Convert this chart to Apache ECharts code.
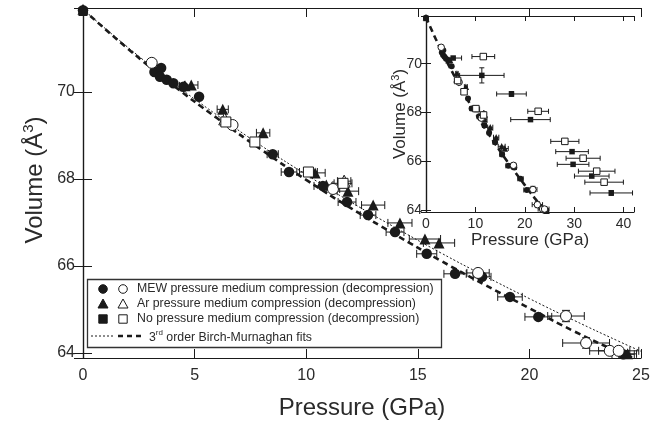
<!DOCTYPE html>
<html>
<head>
<meta charset="utf-8">
<script src="https://cdn.jsdelivr.net/npm/echarts@6/dist/echarts.min.js"></script>
<style>
  html, body { margin: 0; padding: 0; background: #fff; }
  #chart { width: 664px; height: 427px; }
</style>
</head>
<body>
<div id="chart"></div>
<script>
// each point: [pressure GPa, volume A^3, +/- pressure, +/- volume, bar width]
const mewComp = [
  [0, 71.88, 0, 0], [3.2, 70.46, 0, 0], [3.5, 70.55, 0, 0], [3.45, 70.35, 0, 0],
  [3.75, 70.28, 0, 0], [4.05, 70.2, 0, 0], [4.5, 70.12, 0, 0], [5.2, 69.89, 0, 0],
  [8.5, 68.57, 0.25, 0], [9.23, 68.16, 0.35, 0], [10.75, 67.84, 0.4, 0],
  [11.83, 67.47, 0.4, 0], [12.77, 67.17, 0.35, 0], [13.98, 66.78, 0.4, 0],
  [15.4, 66.28, 0.45, 0], [16.67, 65.82, 0.5, 0], [17.88, 65.75, 0.4, 0],
  [19.13, 65.29, 0.55, 0], [20.4, 64.83, 0.6, 0], [24.2, 63.97, 0.5, 0]
];
const mewDecomp = [
  [3.08, 70.67, 0, 0], [6.7, 69.24, 0, 0], [11.2, 67.77, 0.3, 0], [17.7, 65.84, 0.5, 0],
  [21.64, 64.85, 0.82, 0.13], [22.54, 64.23, 1.05, 0.12], [23.6, 64.05, 0.9, 0], [24.0, 64.05, 0.9, 0]
];
const arComp = [
  [0, 71.9, 0, 0], [4.57, 70.14, 0.25, 0], [4.85, 70.16, 0.3, 0], [6.26, 69.6, 0.25, 0],
  [8.07, 69.06, 0.3, 0], [10.4, 68.14, 0.45, 0], [10.9, 67.86, 0.3, 0], [11.87, 67.72, 0.48, 0],
  [13.0, 67.4, 0.52, 0], [14.2, 66.99, 0.54, 0], [15.32, 66.62, 0.7, 0], [15.95, 66.53, 0.7, 0],
  [24.4, 63.98, 0.4, 0]
];
const arDecomp = [
  [6.35, 69.38, 0, 0], [11.7, 67.95, 0.3, 0]
];
const noComp = [
  [0, 71.85, 0, 0]
];
const noDecomp = [
  [6.4, 69.31, 0.2, 0], [7.7, 68.85, 0.2, 0], [10.1, 68.16, 0.4, 0], [11.65, 67.9, 0.4, 0]
];
// points only shown in the inset
const noCompHigh = [
  [5.5, 70.23, 1.7, 0, 1], [11.3, 69.52, 4.5, 0.31, 1], [17.3, 68.76, 3.0, 0.1, 1],
  [21.15, 67.71, 4.0, 0, 2], [29.56, 66.4, 3.3, 0, 1], [29.77, 65.88, 3.2, 0, 1],
  [33.55, 65.4, 3.5, 0, 1], [37.5, 64.71, 4.3, 0.1, 2]
];
const noDecompHigh = [
  [11.6, 70.29, 2.3, 0, 1], [22.7, 68.05, 2.1, 0, 1], [28.1, 66.82, 2.85, 0, 1],
  [31.8, 66.13, 3.45, 0, 1], [34.55, 65.6, 3.7, 0.1, 1], [36.05, 65.15, 3.9, 0, 1]
];
// 3rd order Birch-Murnaghan fits
const fitHydro = [
  [0, 71.9], [2, 71.0], [4, 70.17], [6, 69.4], [8, 68.67], [10, 67.98], [12, 67.33],
  [14, 66.72], [16, 66.13], [18, 65.57], [20, 65.03], [22, 64.5], [24, 64.02], [24.6, 63.9]
];
const fitAll = [
  [0, 71.9], [2, 71.03], [4, 70.22], [6, 69.47], [8, 68.76], [10, 68.1], [12, 67.47],
  [14, 66.88], [16, 66.31], [18, 65.77], [20, 65.25], [22, 64.75], [24, 64.27], [25, 64.04]
];
const mainXTicks = [0, 5, 10, 15, 20, 25];
const insetXTicks = [0, 10, 20, 30, 40];
const yTicks = [64, 66, 68, 70];

const FONT = '"Liberation Sans", Arial, sans-serif';
const INK = '#1a1a1a';
const TXT = '#2a2a2a';

const chart = echarts.init(document.getElementById('chart'));

function errorBars(cap) {
  return function (params, api) {
    const x = api.value(0), y = api.value(1), dx = api.value(2), dy = api.value(3);
    const lw = api.value(4) || 1;
    const style = { stroke: INK, lineWidth: lw, fill: null };
    const kids = [];
    const seg = (x1, y1, x2, y2) => kids.push({ type: 'line', shape: { x1, y1, x2, y2 }, style });
    if (dx > 0) {
      const a = api.coord([x - dx, y]), b = api.coord([x + dx, y]);
      seg(a[0], a[1], b[0], b[1]);
      seg(a[0], a[1] - cap, a[0], a[1] + cap);
      seg(b[0], b[1] - cap, b[0], b[1] + cap);
    }
    if (dy > 0) {
      const a = api.coord([x, y - dy]), b = api.coord([x, y + dy]);
      seg(a[0], a[1], b[0], b[1]);
      seg(a[0] - cap, a[1], a[0] + cap, a[1]);
      seg(b[0] - cap, b[1], b[0] + cap, b[1]);
    }
    return { type: 'group', children: kids };
  };
}

const tickFmt = list => v => (list.some(t => Math.abs(t - v) < 1e-6) ? String(Math.round(v)) : '');

function xAxes(gridIndex, min, max, interval, ticks, fontSize, tickLen) {
  const base = {
    gridIndex, type: 'value', min, max, interval,
    axisLine: { lineStyle: { color: INK, width: 1.2 } },
    axisTick: { inside: true, length: tickLen, lineStyle: { color: INK, width: 1 } },
    splitLine: { show: false }
  };
  return [
    Object.assign({}, base, {
      position: 'bottom',
      axisLabel: { formatter: tickFmt(ticks), color: TXT, fontFamily: FONT, fontSize, margin: fontSize > 14 ? 10 : 5 }
    }),
    Object.assign({}, base, { position: 'top', axisLabel: { show: false } })
  ];
}

function yAxes(gridIndex, min, max, fontSize, tickLen) {
  const base = {
    gridIndex, type: 'value', min, max, splitNumber: 4,
    axisLine: { lineStyle: { color: INK, width: 1.2 } },
    axisTick: { inside: true, length: tickLen, lineStyle: { color: INK, width: 1 } },
    splitLine: { show: false }
  };
  return [
    Object.assign({}, base, {
      position: 'left',
      axisLabel: { formatter: tickFmt(yTicks), color: TXT, fontFamily: FONT, fontSize, margin: fontSize > 14 ? 8 : 4 }
    }),
    Object.assign({}, base, { position: 'right', axisLabel: { show: false } })
  ];
}

function scatter(name, data, xi, yi, symbol, size, open) {
  return {
    name, type: 'scatter', xAxisIndex: xi, yAxisIndex: yi, data,
    symbol, symbolSize: size, z: open ? 4 : 3,
    itemStyle: open
      ? { color: '#fff', borderColor: INK, borderWidth: 1, opacity: 1 }
      : { color: INK, borderWidth: 0, opacity: 1 },
    encode: { x: 0, y: 1 }
  };
}

function fitLine(data, xi, yi, dashed) {
  return {
    type: 'line', xAxisIndex: xi, yAxisIndex: yi, data, smooth: true, showSymbol: false,
    silent: true, z: 2,
    lineStyle: dashed
      ? { color: INK, width: 2.6, type: [6, 4] }
      : { color: INK, width: 1, type: [2, 2] }
  };
}

const mainErr = [].concat(mewComp, mewDecomp, arComp, arDecomp, noComp, noDecomp).filter(d => d[2] > 0 || d[3] > 0);
const insetErr = mainErr.concat(noCompHigh, noDecompHigh);

// legend symbols
const lx1 = 103, lx2 = 123, rows = [289, 304, 319];
const legendSyms = [];
function circ(cx, cy, filled) {
  return { type: 'circle', shape: { cx, cy, r: 4.3 }, style: { fill: filled ? INK : '#fff', stroke: INK, lineWidth: 1 }, z: 101 };
}
function tri(cx, cy, filled) {
  return { type: 'polygon', shape: { points: [[cx, cy - 5], [cx + 5, cy + 4], [cx - 5, cy + 4]] }, style: { fill: filled ? INK : '#fff', stroke: INK, lineWidth: 1 }, z: 101 };
}
function sq(cx, cy, filled) {
  return { type: 'rect', shape: { x: cx - 4.2, y: cy - 4.2, width: 8.4, height: 8.4 }, style: { fill: filled ? INK : '#fff', stroke: INK, lineWidth: 1 }, z: 101 };
}
legendSyms.push(circ(lx1, rows[0], true), circ(lx2, rows[0], false));
legendSyms.push(tri(lx1, rows[1], true), tri(lx2, rows[1], false));
legendSyms.push(sq(lx1, rows[2], true), sq(lx2, rows[2], false));

const legendTexts = [
  'MEW pressure medium compression (decompression)',
  'Ar pressure medium compression (decompression)',
  'No pressure medium compression (decompression)'
].map((t, i) => ({
  type: 'text', x: 137, y: rows[i], z: 101,
  style: { text: t, font: '12.3px ' + FONT, fill: TXT, textAlign: 'left', textVerticalAlign: 'middle' }
}));

const option = {
  animation: false,
  backgroundColor: '#fff',
  grid: [
    { left: 83, top: 8, width: 558, height: 350 },
    { left: 426, top: 16, width: 208, height: 196 }
  ],
  xAxis: [].concat(
    xAxes(0, 0, 25, 5, mainXTicks, 16, 9),
    xAxes(1, 0, 42.1, 10, insetXTicks, 14, 5)
  ),
  yAxis: [].concat(
    yAxes(0, 63.885, 71.93, 16, 9),
    yAxes(1, 63.93, 71.95, 14, 5)
  ),
  series: [
    fitLine(fitAll, 0, 0, false),
    fitLine(fitHydro, 0, 0, true),
    { type: 'custom', xAxisIndex: 0, yAxisIndex: 0, data: mainErr, renderItem: errorBars(4), z: 2, silent: true, encode: { x: 0, y: 1 } },
    scatter('mewComp', mewComp, 0, 0, 'circle', 10.5, false),
    scatter('arComp', arComp, 0, 0, 'triangle', 11, false),
    scatter('noComp', noComp, 0, 0, 'rect', 9, false),
    scatter('mewDecomp', mewDecomp, 0, 0, 'circle', 11, true),
    scatter('arDecomp', arDecomp, 0, 0, 'triangle', 12, true),
    scatter('noDecomp', noDecomp, 0, 0, 'rect', 10, true),

    fitLine(fitHydro, 2, 2, true),
    { type: 'custom', xAxisIndex: 2, yAxisIndex: 2, data: insetErr, renderItem: errorBars(2.5), z: 2, silent: true, encode: { x: 0, y: 1 } },
    scatter('mewComp', mewComp, 2, 2, 'circle', 6, false),
    scatter('arComp', arComp, 2, 2, 'triangle', 6.5, false),
    scatter('noComp', noComp.concat(noCompHigh), 2, 2, 'rect', 5.5, false),
    scatter('mewDecomp', mewDecomp, 2, 2, 'circle', 6.5, true),
    scatter('arDecomp', arDecomp, 2, 2, 'triangle', 7, true),
    scatter('noDecomp', noDecomp.concat(noDecompHigh), 2, 2, 'rect', 6.5, true)
  ],
  graphic: [
    { type: 'text', x: 362, y: 408, style: { text: 'Pressure (GPa)', font: '24px ' + FONT, fill: TXT, textAlign: 'center', textVerticalAlign: 'middle' } },
    {
      type: 'text', x: 33, y: 180, rotation: Math.PI / 2,
      style: {
        text: '{a|Volume (Å}{s|3}{a|)}', textAlign: 'center', textVerticalAlign: 'middle',
        rich: {
          a: { font: '24px ' + FONT, fill: TXT, verticalAlign: 'bottom', lineHeight: 28 },
          s: { font: '15px ' + FONT, fill: TXT, verticalAlign: 'bottom', padding: [0, 0, 11, 0], lineHeight: 28 }
        }
      }
    },
    { type: 'text', x: 530, y: 240, style: { text: 'Pressure (GPa)', font: '17px ' + FONT, fill: TXT, textAlign: 'center', textVerticalAlign: 'middle' } },
    {
      type: 'text', x: 399, y: 114, rotation: Math.PI / 2,
      style: {
        text: '{a|Volume (Å}{s|3}{a|)}', textAlign: 'center', textVerticalAlign: 'middle',
        rich: {
          a: { font: '17px ' + FONT, fill: TXT, verticalAlign: 'bottom', lineHeight: 20 },
          s: { font: '11px ' + FONT, fill: TXT, verticalAlign: 'bottom', padding: [0, 0, 8, 0], lineHeight: 20 }
        }
      }
    },
    { type: 'rect', z: 100, shape: { x: 87.5, y: 279.5, width: 354, height: 68 }, style: { fill: '#fff', stroke: '#333', lineWidth: 1.3 } },
    ...legendSyms,
    ...legendTexts,
    { type: 'line', z: 101, shape: { x1: 91, y1: 336, x2: 113, y2: 336 }, style: { stroke: INK, lineWidth: 1, lineDash: [2, 2] } },
    { type: 'line', z: 101, shape: { x1: 118, y1: 336, x2: 143, y2: 336 }, style: { stroke: INK, lineWidth: 2.6, lineDash: [5, 4] } },
    {
      type: 'text', x: 149, y: 336, z: 101,
      style: {
        text: '{a|3}{s|rd}{a| order Birch-Murnaghan fits}', textAlign: 'left', textVerticalAlign: 'middle',
        rich: {
          a: { font: '12.3px ' + FONT, fill: TXT, verticalAlign: 'bottom', lineHeight: 16 },
          s: { font: '8px ' + FONT, fill: TXT, verticalAlign: 'bottom', padding: [0, 0, 7, 0], lineHeight: 16 }
        }
      }
    }
  ]
};

chart.setOption(option);
</script>
</body>
</html>
